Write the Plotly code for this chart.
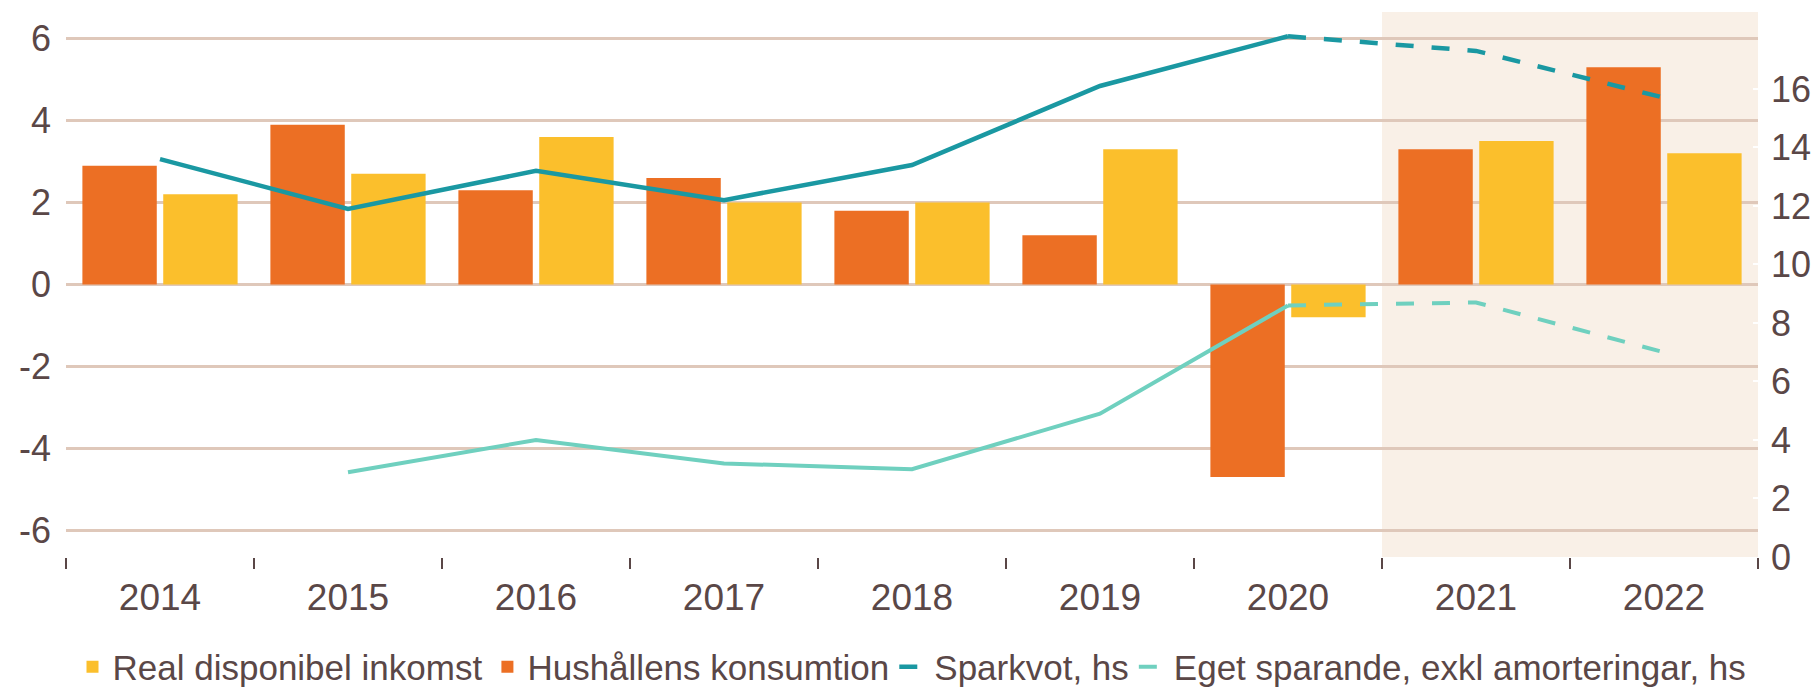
import plotly.graph_objects as go

# ---- data ----
years = ["2014", "2015", "2016", "2017", "2018", "2019", "2020", "2021", "2022"]
konsumtion = [2.9, 3.9, 2.3, 2.6, 1.8, 1.2, -4.7, 3.3, 5.3]      # Hushållens konsumtion (vänster axel)
inkomst = [2.2, 2.7, 3.6, 2.0, 2.0, 3.3, -0.8, 3.5, 3.2]         # Real disponibel inkomst (vänster axel)
sparkvot = [13.6, 11.9, 13.2, 12.2, 13.4, 16.1, 17.8, 17.3, 15.7]  # Sparkvot, hs
eget = [None, 2.9, 4.0, 3.2, 3.0, 4.9, 8.6, 8.7, 7.0]           # Eget sparande, exkl amorteringar, hs
left_ticks = [-6, -4, -2, 0, 2, 4, 6]
right_ticks = [0, 2, 4, 6, 8, 10, 12, 14, 16]
forecast_from = "2021"
outcome_last = 6   # index of last outcome year (2020)

TXT = "#5a4747"
ORANGE = "#ec6f24"
YELLOW = "#fbbf2c"
TEAL = "#1a98a2"
LTEAL = "#6fd0bf"
GRID = "#dfc8ba"
SHADE = "#f9f0e7"
FONT = "Liberation Sans, Arial, sans-serif"

fig = go.Figure()

fig.add_trace(go.Bar(x=years, y=konsumtion, name="Hushållens konsumtion",
                     marker=dict(color=ORANGE, line=dict(width=0)), legendrank=2))
fig.add_trace(go.Bar(x=years, y=inkomst, name="Real disponibel inkomst",
                     marker=dict(color=YELLOW, line=dict(width=0)), legendrank=1))

# Sparkvot: solid outcome, dashed forecast
fig.add_trace(go.Scatter(x=years[:outcome_last + 1], y=sparkvot[:outcome_last + 1], yaxis="y2",
                         mode="lines", line=dict(color=TEAL, width=4.5),
                         name="Sparkvot, hs", legendgroup="sp", showlegend=False))
fig.add_trace(go.Scatter(x=years[outcome_last:], y=sparkvot[outcome_last:], yaxis="y2",
                         mode="lines", line=dict(color=TEAL, width=4.5, dash="18px,18px"),
                         name="Sparkvot, hs", legendgroup="sp", legendrank=3))
# Eget sparande
fig.add_trace(go.Scatter(x=years[:outcome_last + 1], y=eget[:outcome_last + 1], yaxis="y2",
                         mode="lines", line=dict(color=LTEAL, width=4),
                         name="Eget sparande, exkl amorteringar, hs", legendgroup="eg",
                         showlegend=False))
fig.add_trace(go.Scatter(x=years[outcome_last:], y=eget[outcome_last:], yaxis="y2",
                         mode="lines", line=dict(color=LTEAL, width=4, dash="18px,18px"),
                         name="Eget sparande, exkl amorteringar, hs", legendgroup="eg",
                         legendrank=4))

# forecast shading
fi = years.index(forecast_from)
fig.add_shape(type="rect", xref="x", yref="paper", x0=fi - 0.5, x1=len(years) - 0.5,
              y0=0, y1=1, fillcolor=SHADE, line=dict(width=0), layer="below")

# the page body has an 8px default margin, so the figure is 8px smaller and margins shifted
fig.update_layout(
    width=1811, height=679,
    margin=dict(l=58, r=61, t=4, b=130, autoexpand=False),
    paper_bgcolor="white", plot_bgcolor="white",
    font=dict(family=FONT, color=TXT, size=36),
    barmode="group", bargap=0.14, bargroupgap=0.08,
    showlegend=True,
    legend=dict(orientation="h", x=0.5, xanchor="center", y=-0.202, yanchor="middle",
                font=dict(size=35, color=TXT, family=FONT), itemwidth=30,
                traceorder="normal", bgcolor="rgba(0,0,0,0)"),
    xaxis=dict(type="category", range=[-0.5, len(years) - 0.5], tickson="boundaries",
               ticks="outside", ticklen=11, tickwidth=2, tickcolor=TXT,
               showgrid=False, showline=False, zeroline=False,
               tickfont=dict(size=37, color=TXT, family=FONT), ticklabelstandoff=15),
    yaxis=dict(range=[-6.65, 6.65], tickvals=left_ticks, ticktext=[str(v) for v in left_ticks],
               showgrid=True, gridcolor=GRID, gridwidth=2.5, zeroline=False, showline=False,
               ticks="", tickfont=dict(size=36, color=TXT, family=FONT), ticklabelstandoff=14),
    yaxis2=dict(overlaying="y", side="right", range=[0, 18.63], tickvals=right_ticks,
                ticktext=[str(v) for v in right_ticks], showgrid=False, zeroline=False,
                showline=False, ticks="inside", ticklen=5, tickwidth=2, tickcolor="white",
                tickfont=dict(size=36, color=TXT, family=FONT), ticklabelstandoff=12),
)

fig.write_html("out.html")
